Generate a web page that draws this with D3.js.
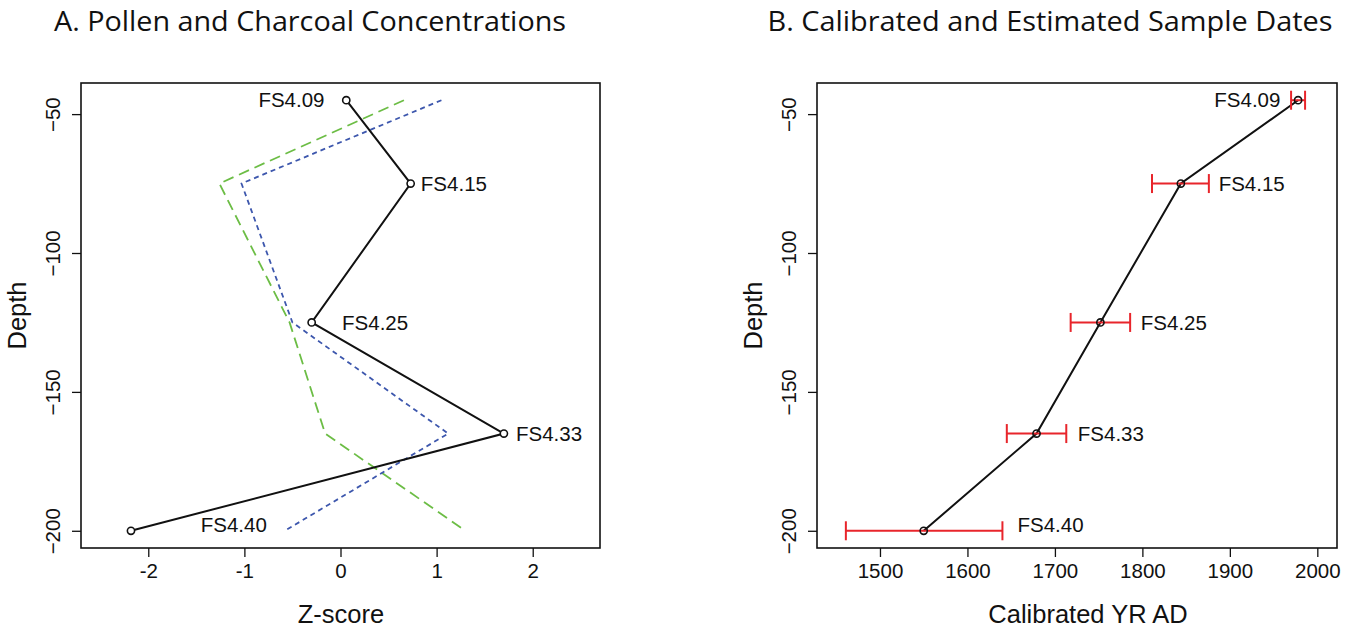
<!DOCTYPE html>
<html>
<head>
<meta charset="utf-8">
<script src="https://cdn.jsdelivr.net/npm/d3@7"></script>
<style>
  body { margin: 0; background: #fff; }
  svg { display: block; }
  .tick text { font-family: "Liberation Sans", Arial, sans-serif; font-size: 20.5px; fill: #111; }
  .tick line { stroke: #111; stroke-width: 1.3; }
</style>
</head>
<body>
<div id="chart"></div>
<script>
// sample names and depths (cm)
const samples = ["FS4.09", "FS4.15", "FS4.25", "FS4.33", "FS4.40"];
const depth = [-45, -75, -125, -165, -200];

// panel A: z-scores
const zBlack = [0.06, 0.73, -0.30, 1.70, -2.18];
const zGreen = [0.66, -1.26, -0.53, -0.16, 1.30];
const zBlue  = [1.05, -1.03, -0.50, 1.12, -0.58];

// panel B: calibrated dates with ranges
const calYear = [1978, 1844, 1752, 1679, 1550];
const calLow  = [1970, 1811, 1718, 1645, 1461];
const calHigh = [1986, 1876, 1786, 1713, 1640];

// label anchors (data units)
const zLabelX    = [-0.51, 1.18, 0.36, 2.17, -1.11];
const yearLabelX = [1920, 1925, 1836, 1764, 1695];
const labelDepth = [-45, -75, -125, -165, -198];

const zTicks = [-2, -1, 0, 1, 2];
const yearTicks = [1500, 1600, 1700, 1800, 1900, 2000];
const depthTicks = [-50, -100, -150, -200];

const W = 1346, H = 628;
const svg = d3.select("#chart").append("svg").attr("width", W).attr("height", H);
svg.append("rect").attr("width", W).attr("height", H).attr("fill", "#fff");

const plotTop = 83, plotBottom = 548;
const yScale = d3.scaleLinear().domain([-206.2, -38.8]).range([plotBottom, plotTop]);

function panel(left, right, xScale, xTicks, xTitle, xTitleX, title, titleX, titleW) {
  const g = svg.append("g");

  // x axis
  g.append("g")
    .attr("transform", `translate(0,${plotBottom})`)
    .call(d3.axisBottom(xScale).tickValues(xTicks).tickSize(9).tickSizeOuter(0).tickPadding(6)
      .tickFormat(d => String(d)))
    .call(a => a.select(".domain").remove());

  // y axis
  const ya = g.append("g")
    .attr("transform", `translate(${left},0)`)
    .call(d3.axisLeft(yScale).tickValues(depthTicks).tickSize(9).tickSizeOuter(0))
    .call(a => a.select(".domain").remove());
  ya.selectAll(".tick text")
    .attr("x", null).attr("dy", null)
    .attr("text-anchor", "middle")
    .attr("transform", "translate(-21,0) rotate(-90)");

  // box
  g.append("rect")
    .attr("x", left).attr("y", plotTop)
    .attr("width", right - left).attr("height", plotBottom - plotTop)
    .attr("fill", "none").attr("stroke", "#111").attr("stroke-width", 1.6);

  // axis titles
  g.append("text")
    .attr("x", xTitleX).attr("y", 623)
    .attr("text-anchor", "middle")
    .attr("font-family", "Liberation Sans, Arial, sans-serif")
    .attr("font-size", 25.5).attr("fill", "#111")
    .text(xTitle);
  g.append("text")
    .attr("transform", `translate(${left - 55},${(plotTop + plotBottom) / 2}) rotate(-90)`)
    .attr("text-anchor", "middle")
    .attr("font-family", "Liberation Sans, Arial, sans-serif")
    .attr("font-size", 25.5).attr("fill", "#111")
    .text("Depth");

  // panel title
  g.append("text")
    .attr("x", titleX).attr("y", 31)
    .attr("text-anchor", "middle")
    .attr("font-family", "Open Sans, Noto Sans, sans-serif")
    .attr("font-size", 27).attr("fill", "#111")
    .attr("textLength", titleW).attr("lengthAdjust", "spacingAndGlyphs")
    .text(title);
  return g;
}

// ---------- panel A ----------
const xZ = d3.scaleLinear().domain([-2.7, 2.7]).range([81, 600]);
const gA = panel(81, 600, xZ, zTicks, "Z-score", 341, "A. Pollen and Charcoal Concentrations", 310, 512);

const line = (xs) => d3.line().x(d => xs(d)).y((d, i) => yScale(depth[i]));

gA.append("path").datum(zGreen)
  .attr("d", line(xZ)).attr("fill", "none")
  .attr("stroke", "#6cbd45").attr("stroke-width", 1.8).attr("stroke-dasharray", "11,6");
gA.append("path").datum(zBlue)
  .attr("d", line(xZ)).attr("fill", "none")
  .attr("stroke", "#3d57ad").attr("stroke-width", 1.8).attr("stroke-dasharray", "5,4");
gA.append("path").datum(zBlack)
  .attr("d", line(xZ)).attr("fill", "none")
  .attr("stroke", "#111").attr("stroke-width", 2);
gA.selectAll("circle.pt").data(zBlack).enter().append("circle")
  .attr("cx", d => xZ(d)).attr("cy", (d, i) => yScale(depth[i])).attr("r", 3.6)
  .attr("fill", "#fff").attr("stroke", "#111").attr("stroke-width", 1.6);
gA.selectAll("text.lab").data(samples).enter().append("text")
  .attr("x", (d, i) => xZ(zLabelX[i])).attr("y", (d, i) => yScale(labelDepth[i]))
  .attr("dy", "0.35em").attr("text-anchor", "middle")
  .attr("font-family", "Liberation Sans, Arial, sans-serif").attr("font-size", 20.5).attr("fill", "#111")
  .text(d => d);

// ---------- panel B ----------
const xY = d3.scaleLinear().domain([1428, 2022.5]).range([817, 1337]);
const gB = panel(817, 1337, xY, yearTicks, "Calibrated YR AD", 1088, "B. Calibrated and Estimated Sample Dates", 1050, 565);

gB.append("path").datum(calYear)
  .attr("d", line(xY)).attr("fill", "none")
  .attr("stroke", "#111").attr("stroke-width", 2);

const err = gB.selectAll("g.err").data(calYear).enter().append("g")
  .attr("stroke", "#e8252b").attr("stroke-width", 2);
err.append("line")
  .attr("x1", (d, i) => xY(calLow[i])).attr("x2", (d, i) => xY(calHigh[i]))
  .attr("y1", (d, i) => yScale(depth[i])).attr("y2", (d, i) => yScale(depth[i]));
err.append("line")
  .attr("x1", (d, i) => xY(calLow[i])).attr("x2", (d, i) => xY(calLow[i]))
  .attr("y1", (d, i) => yScale(depth[i]) - 9.5).attr("y2", (d, i) => yScale(depth[i]) + 9.5);
err.append("line")
  .attr("x1", (d, i) => xY(calHigh[i])).attr("x2", (d, i) => xY(calHigh[i]))
  .attr("y1", (d, i) => yScale(depth[i]) - 9.5).attr("y2", (d, i) => yScale(depth[i]) + 9.5);

gB.selectAll("circle.pt").data(calYear).enter().append("circle")
  .attr("cx", d => xY(d)).attr("cy", (d, i) => yScale(depth[i])).attr("r", 3.6)
  .attr("fill", "none").attr("stroke", "#111").attr("stroke-width", 1.6);
gB.selectAll("text.lab").data(samples).enter().append("text")
  .attr("x", (d, i) => xY(yearLabelX[i])).attr("y", (d, i) => yScale(labelDepth[i]))
  .attr("dy", "0.35em").attr("text-anchor", "middle")
  .attr("font-family", "Liberation Sans, Arial, sans-serif").attr("font-size", 20.5).attr("fill", "#111")
  .text(d => d);
</script>
</body>
</html>
